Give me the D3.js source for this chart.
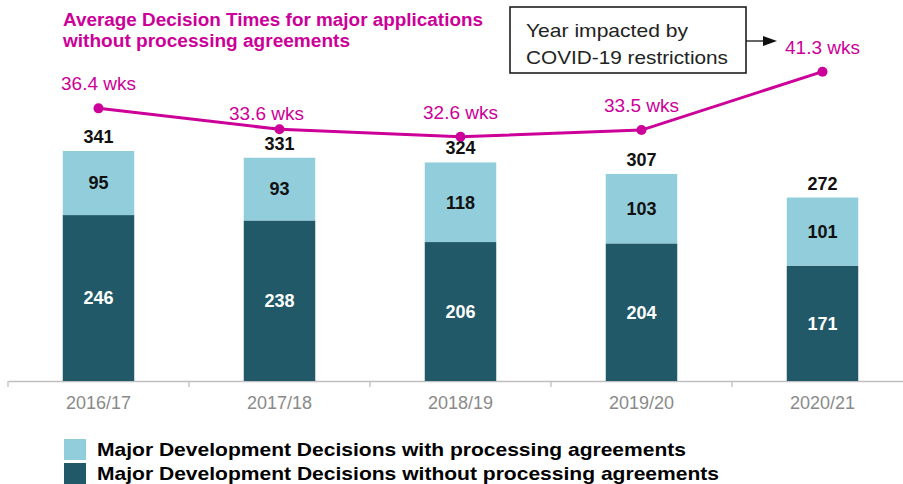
<!DOCTYPE html>
<meta charset="utf-8">
<style>
body{margin:0;background:#fff;}
svg{display:block;}
text{font-family:'Liberation Sans',Arial,sans-serif;}
</style>
<svg id="svg"></svg>
<script src="https://cdn.jsdelivr.net/npm/d3@7"></script>
<script>
// data
var years = ['2016/17','2017/18','2018/19','2019/20','2020/21']
var withPA = [95, 93, 118, 103, 101]
var withoutPA = [246, 238, 206, 204, 171]
var weeks = [36.4, 33.6, 32.6, 33.5, 41.3]
var legendLabels = ['Major Development Decisions with  processing agreements',
                    'Major Development Decisions without processing agreements']
var titleLines = ['Average Decision Times for major applications',
                  'without processing agreements']
var noteLines = ['Year impacted by', 'COVID-19 restrictions']

var width = 903, height = 484
var light = '#92cddc', dark = '#215968', pink = '#cc0099'

var svg = d3.select('#svg').attr('width', width).attr('height', height)

var x = d3.scaleBand().domain(years).range([8, 913]).padding(0)
var y = d3.scaleLinear().domain([0, 400]).range([381, 111.2])
var y2 = d3.scaleLinear().domain([0, 50]).range([381, 6.5])
var bw = x.bandwidth() * 0.395

// axis
var axis = svg.append('g').attr('transform', 'translate(0,381)')
  .call(d3.axisBottom(x).tickSize(0).tickPadding(28))
axis.select('.domain').attr('stroke', '#bfbfbf').attr('stroke-width', 1.3)
axis.selectAll('text').attr('fill', '#8a8a8a').style('font-size', '18px')
  .attr('font-family', "'Liberation Sans',Arial,sans-serif").attr('dy', 0)
axis.selectAll('.bnd').data(years.concat(['end'])).enter().append('line')
  .attr('x1', (d, i) => 8 + i * x.step()).attr('x2', (d, i) => 8 + i * x.step())
  .attr('y1', 0).attr('y2', 6).attr('stroke', '#bfbfbf').attr('stroke-width', 1.3)

// stacked bars
var bars = svg.append('g')
years.forEach((yr, i) => {
  var cx = x(yr) + x.bandwidth() / 2
  var tot = withPA[i] + withoutPA[i]
  bars.append('rect').attr('x', cx - bw / 2).attr('width', bw)
    .attr('y', y(withoutPA[i])).attr('height', y(0) - y(withoutPA[i])).attr('fill', dark)
  bars.append('rect').attr('x', cx - bw / 2).attr('width', bw)
    .attr('y', y(tot)).attr('height', y(withoutPA[i]) - y(tot)).attr('fill', light)
  bars.append('text').attr('x', cx).attr('y', (y(0) + y(withoutPA[i])) / 2).attr('dy', '.35em')
    .attr('text-anchor', 'middle').attr('fill', '#fff').style('font-weight', 'bold')
    .style('font-size', '18px').text(withoutPA[i])
  bars.append('text').attr('x', cx).attr('y', (y(tot) + y(withoutPA[i])) / 2).attr('dy', '.35em')
    .attr('text-anchor', 'middle').attr('fill', '#111').style('font-weight', 'bold')
    .style('font-size', '18px').text(withPA[i])
  bars.append('text').attr('x', cx).attr('y', y(tot) - 8)
    .attr('text-anchor', 'middle').attr('fill', '#111').style('font-weight', 'bold')
    .style('font-size', '18px').text(tot)
})

// decision time line
var pts = weeks.map((w, i) => [x(years[i]) + x.bandwidth() / 2, y2(w)])
svg.append('path').attr('d', d3.line()(pts)).attr('fill', 'none')
  .attr('stroke', pink).attr('stroke-width', 3)
svg.selectAll('.dot').data(pts).enter().append('circle')
  .attr('cx', d => d[0]).attr('cy', d => d[1]).attr('r', 5).attr('fill', pink)
var nudge = {1: [-13, 9]}
svg.selectAll('.wk').data(weeks).enter().append('text')
  .attr('x', (d, i) => pts[i][0] + (nudge[i] ? nudge[i][0] : 0))
  .attr('y', (d, i) => pts[i][1] - 18 + (nudge[i] ? nudge[i][1] : 0))
  .attr('text-anchor', 'middle').attr('fill', pink).style('font-size', '19px')
  .text(d => d3.format('.1f')(d) + ' wks')

// title
svg.selectAll('.ttl').data(titleLines).enter().append('text')
  .attr('x', 63).attr('y', (d, i) => 26 + i * 21)
  .attr('fill', pink).style('font-weight', 'bold').style('font-size', '18px')
  .attr('textLength', (d, i) => i ? 287 : 420).attr('lengthAdjust', 'spacingAndGlyphs')
  .text(d => d)

// covid note box + arrow
svg.append('rect').attr('x', 510).attr('y', 7).attr('width', 236).attr('height', 66)
  .attr('fill', '#fff').attr('stroke', '#111').attr('stroke-width', 1.5)
svg.selectAll('.note').data(noteLines).enter().append('text')
  .attr('x', 526).attr('y', (d, i) => 37 + i * 27)
  .attr('fill', '#222').style('font-size', '19px')
  .attr('font-family', "'Noto Sans','Open Sans',sans-serif")
  .attr('textLength', (d, i) => i ? 202 : 162).attr('lengthAdjust', 'spacingAndGlyphs')
  .text(d => d)
svg.append('line').attr('x1', 746).attr('x2', 764).attr('y1', 41).attr('y2', 41)
  .attr('stroke', '#111').attr('stroke-width', 1.3)
svg.append('path').attr('d', 'M763,36L777,41L763,46Z').attr('fill', '#111')

// legend
var lg = svg.append('g')
legendLabels.forEach((t, i) => {
  lg.append('rect').attr('x', 64).attr('y', 439 + i * 24).attr('width', 22).attr('height', 21)
    .attr('fill', i ? dark : light)
  lg.append('text').attr('x', 97).attr('y', 456 + i * 24).attr('fill', '#000')
    .style('font-weight', 'bold').style('font-size', '19px')
    .attr('textLength', i ? 622 : 589).attr('lengthAdjust', 'spacingAndGlyphs')
    .text(t)
})
</script>
